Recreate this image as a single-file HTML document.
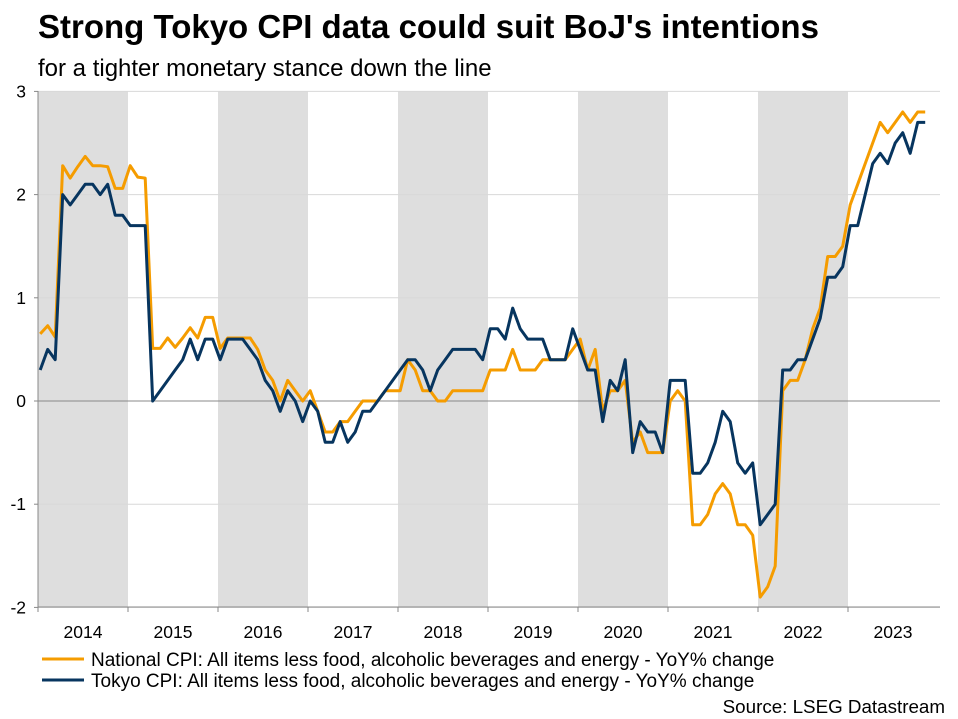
<!DOCTYPE html>
<html><head><meta charset="utf-8"><style>
body{margin:0;width:958px;height:719px;background:#fff;font-family:"Liberation Sans",sans-serif;overflow:hidden}
</style></head><body>
<svg width="958" height="719" style="position:absolute;left:0;top:0" font-family="Liberation Sans, sans-serif">
<text x="38" y="38" font-size="33" font-weight="bold" fill="#000">Strong Tokyo CPI data could suit BoJ's intentions</text>
<text x="38" y="76" font-size="24" fill="#000">for a tighter monetary stance down the line</text>
<g id="bands"></g><g id="grid"></g><g id="series"></g><g id="axes"></g>
<line x1="42" y1="659" x2="84" y2="659" stroke="#f59c00" stroke-width="3"/>
<text x="91" y="666" font-size="19">National CPI: All items less food, alcoholic beverages and energy - YoY% change</text>
<line x1="42" y1="680" x2="84" y2="680" stroke="#07355f" stroke-width="3"/>
<text x="91" y="687" font-size="19">Tokyo CPI: All items less food, alcoholic beverages and energy - YoY% change</text>
<text x="945" y="713" font-size="18.8" text-anchor="end">Source: LSEG Datastream</text>
</svg>
<script>
const years=[2014,2015,2016,2017,2018,2019,2020,2021,2022,2023];
const yTicks=[3,2,1,0,-1,-2];
const national=[.65,.73,.62,2.28,2.16,2.27,2.37,2.28,2.28,2.27,2.06,2.06,
2.28,2.17,2.16,.51,.51,.61,.52,.61,.71,.61,.81,.81,
.51,.61,.61,.61,.61,.5,.3,.2,0,.2,.1,0,
.1,-.1,-.3,-.3,-.2,-.2,-.1,0,0,0,.1,.1,
.1,.4,.3,.1,.1,0,0,.1,.1,.1,.1,.1,
.3,.3,.3,.5,.3,.3,.3,.4,.4,.4,.4,.5,
.6,.3,.5,-.1,.1,.1,.2,-.4,-.3,-.5,-.5,-.5,
0,.1,0,-1.2,-1.2,-1.1,-.9,-.8,-.9,-1.2,-1.2,-1.3,
-1.9,-1.8,-1.6,.1,.2,.2,.4,.7,.9,1.4,1.4,1.5,
1.9,2.1,2.3,2.5,2.7,2.6,2.7,2.8,2.7,2.8,2.8];
const tokyo=[.3,.5,.4,2.0,1.9,2.0,2.1,2.1,2.0,2.1,1.8,1.8,
1.7,1.7,1.7,0,.1,.2,.3,.4,.6,.4,.6,.6,
.4,.6,.6,.6,.5,.4,.2,.1,-.1,.1,0,-.2,
0,-.1,-.4,-.4,-.2,-.4,-.3,-.1,-.1,0,.1,.2,
.3,.4,.4,.3,.1,.3,.4,.5,.5,.5,.5,.4,
.7,.7,.6,.9,.7,.6,.6,.6,.4,.4,.4,.7,
.5,.3,.3,-.2,.2,.1,.4,-.5,-.2,-.3,-.3,-.5,
.2,.2,.2,-.7,-.7,-.6,-.4,-.1,-.2,-.6,-.7,-.6,
-1.2,-1.1,-1.0,.3,.3,.4,.4,.6,.8,1.2,1.2,1.3,
1.7,1.7,2.0,2.3,2.4,2.3,2.5,2.6,2.4,2.7,2.7];
const NS="http://www.w3.org/2000/svg";
const L=38,R=940,T=91,B=607,MW=7.5;
const xM=m=>40.2+m*MW;
const y=v=>401-v*103.2;
function mk(tag,attrs,parent){const e=document.createElementNS(NS,tag);for(const k in attrs)e.setAttribute(k,attrs[k]);document.getElementById(parent).appendChild(e);return e;}
years.forEach((yr,i)=>{
  const x0=L+i*90, x1=Math.min(x0+90,R);
  if(i%2===0){const r=mk('rect',{x:x0,y:T,width:x1-x0,height:B-T,fill:'#dedede'},'bands');
  
  }
  const t=mk('text',{x:(x0+x1)/2,y:638,'font-size':17.5,'text-anchor':'middle'},'axes');t.textContent=yr;
  
  
  const tk=mk('line',{x1:x0,y1:B,x2:x0,y2:B+5,stroke:'#888'},'axes');
  
  
});
yTicks.forEach(v=>{
  const g=mk('line',{x1:L,x2:R,y1:y(v),y2:y(v),stroke:v===0?'#888':'#d8d8d8','stroke-width':1},'grid');
  
  
  const t=mk('text',{x:26,y:y(v)+6,'font-size':17.5,'text-anchor':'end'},'axes');t.textContent=v;
  
  
  const tk=mk('line',{x1:L-4,x2:L,y1:y(v),y2:y(v),stroke:'#888'},'axes');
  
  
});
const ax=mk('line',{x1:L,x2:L,y1:T,y2:B,stroke:'#888'},'axes');


const bx=mk('line',{x1:L,x2:R,y1:B,y2:B,stroke:'#888'},'axes');


function line(arr,color,name){
  const p=mk('polyline',{points:arr.map((v,i)=>xM(i).toFixed(1)+','+y(v).toFixed(1)).join(' '),fill:'none',stroke:color,'stroke-width':3,'stroke-linejoin':'round'},'series');
  
  
}
line(national,'#f59c00','national-cpi-line');
line(tokyo,'#07355f','tokyo-cpi-line');
</script>
</body></html>
